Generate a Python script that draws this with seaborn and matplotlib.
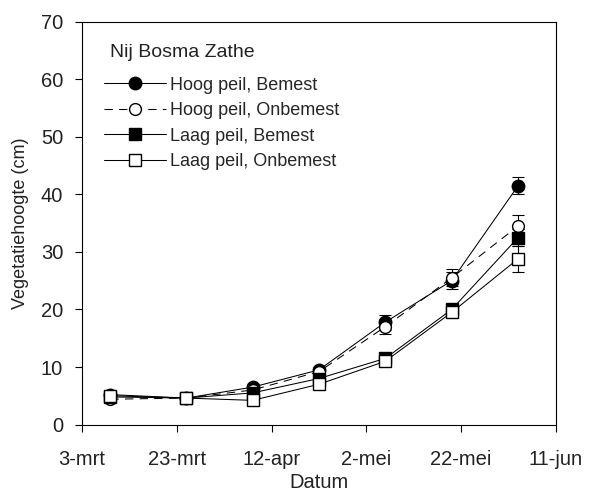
import pandas as pd
import matplotlib
matplotlib.use("Agg")
import matplotlib.pyplot as plt
import seaborn as sns

# days after 3 March
days = [6, 22, 36, 50, 64, 78, 92]

hoog_bemest = [5.2, 4.6, 6.5, 9.5, 17.8, 25.0, 41.5]
hoog_onbemest = [4.4, 4.6, 6.0, 9.2, 17.0, 25.5, 34.5]
laag_bemest = [4.8, 4.6, 5.5, 8.0, 11.5, 20.0, 32.5]
laag_onbemest = [5.0, 4.6, 4.2, 7.0, 11.0, 19.5, 28.8]

err_hb = [0.4, 0.3, 0.5, 0.5, 1.3, 1.5, 1.5]
err_ho = [0.3, 0.3, 0.5, 0.5, 1.3, 1.5, 2.0]
err_lb = [0.3, 0.3, 0.4, 0.5, 0.8, 1.0, 1.5]
err_lo = [0.3, 0.3, 0.4, 0.5, 0.6, 0.8, 2.2]

tick_days = [0, 20, 40, 60, 80, 100]
tick_labels = ["3-mrt", "23-mrt", "12-apr", "2-mei", "22-mei", "11-jun"]

series = [
    ("Hoog peil, Bemest", hoog_bemest, err_hb, "o", 9, "black", "-"),
    ("Hoog peil, Onbemest", hoog_onbemest, err_ho, "o", 8.5, "white", (0, (8, 6))),
    ("Laag peil, Bemest", laag_bemest, err_lb, "s", 8, "black", "-"),
    ("Laag peil, Onbemest", laag_onbemest, err_lo, "s", 8, "white", "-"),
]

sns.set_style("ticks")
plt.rcParams['font.family'] = ['Liberation Sans', 'DejaVu Sans']

fig = plt.figure(figsize=(6.03, 4.91), dpi=100)
ax = fig.add_axes([0.136, 0.1354, 0.786, 0.820])

for name, vals, errs, mk, ms, face, ls in series:
    df = pd.DataFrame({"dag": days, "hoogte": vals})
    ax.errorbar(days, vals, yerr=errs, fmt="none", ecolor="black",
                elinewidth=0.8, capsize=4.3, capthick=0.8, zorder=2)
    sns.lineplot(data=df, x="dag", y="hoogte", ax=ax, label=name,
                 color="black", linewidth=0.75, linestyle=ls,
                 marker=mk, markersize=ms, markerfacecolor=face,
                 markeredgecolor="black", markeredgewidth=1.0, zorder=3)

ax.set_xlim(0, 100)
ax.set_ylim(0, 70)
ax.set_xticks(tick_days)
ax.set_xticklabels(tick_labels)
ax.set_yticks(range(0, 71, 10))
ax.tick_params(labelsize=14.5, length=5, width=0.8, color="black", labelcolor="#222222")
ax.tick_params(axis="x", pad=13)
ax.tick_params(axis="y", pad=8.6)
ax.set_xlabel("Datum", fontsize=14.5, color="#222222", labelpad=3)
ax.set_ylabel("Vegetatiehoogte (cm)", fontsize=13, color="#222222")
ax.yaxis.set_label_coords(-0.112, 0.5)

for sp in ax.spines.values():
    sp.set_color("black")
    sp.set_linewidth(0.8)

# legend title as separate text (bigger gap to entries than legend allows)
ax.text(0.059, 0.912, "Nij Bosma Zathe", transform=ax.transAxes,
        fontsize=14, color="#222222", ha="left", va="baseline")
ax.legend(loc="upper left", frameon=False, fontsize=13, handlelength=3.4,
          handletextpad=0.25, labelspacing=0.47, borderaxespad=0,
          bbox_to_anchor=(0.032, 0.882))

fig.savefig("out.png", dpi=100)
